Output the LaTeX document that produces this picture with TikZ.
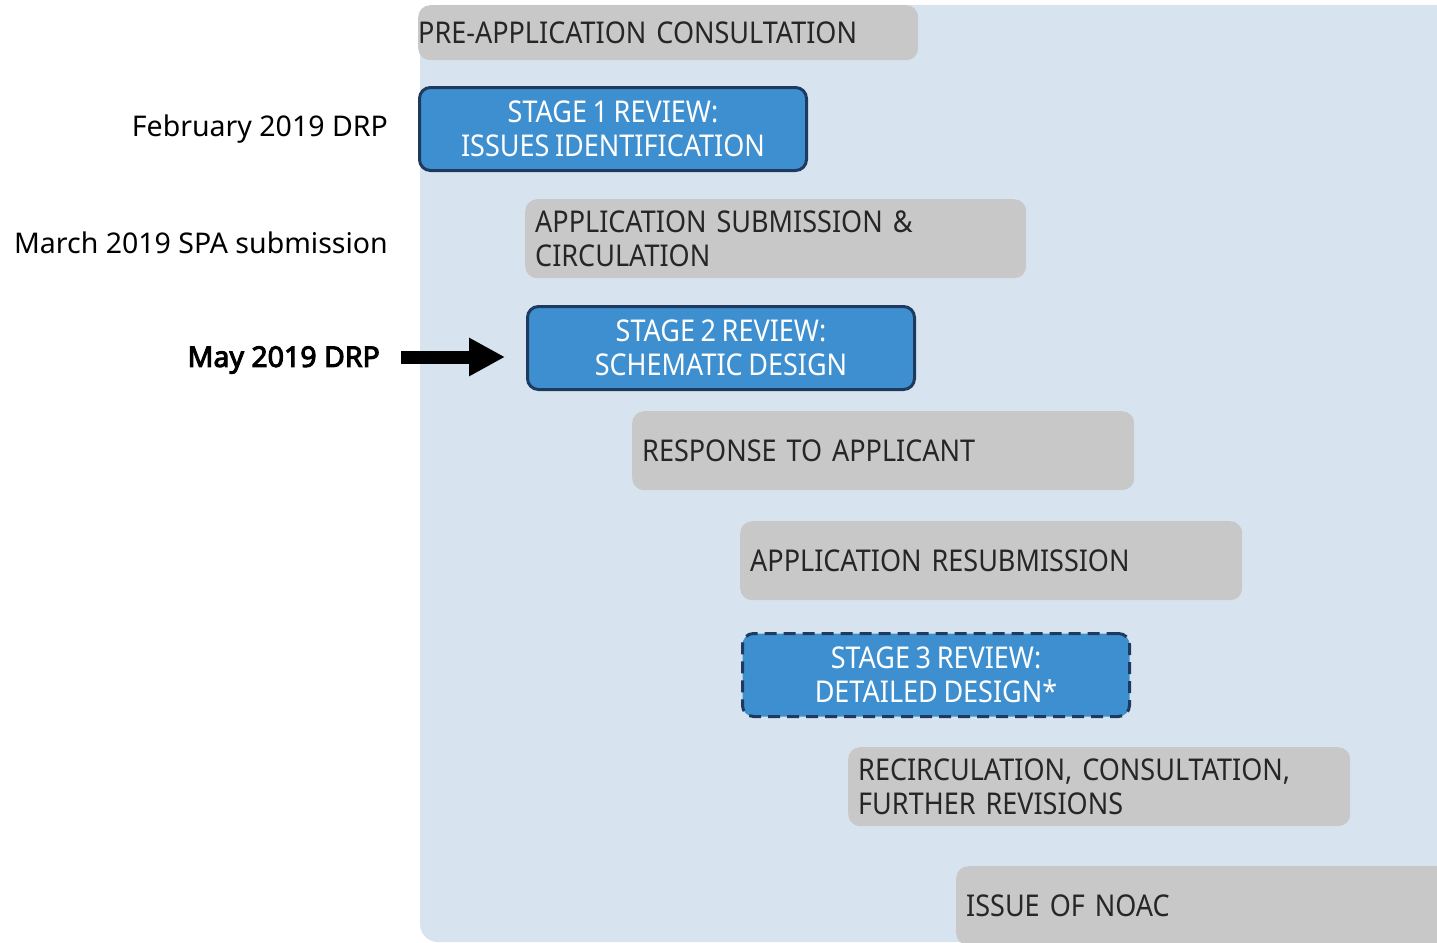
\documentclass[tikz,border=0pt]{standalone}
\usepackage{fontspec}
\setmainfont{Noto Sans}
\newfontfamily\boxfont[FakeStretch=0.9,WordSpace=0.8]{Noto Sans}
\newfontfamily\sidefont{Noto Sans}
\newfontfamily\sidebold[FakeBold=3.5]{Noto Sans}
\usetikzlibrary{arrows.meta}
\usetikzlibrary{positioning}

\definecolor{panelblue}{HTML}{D7E4EF}
\definecolor{stepgrey}{HTML}{C8C8C8}
\definecolor{stageblue}{HTML}{3D8FD0}
\definecolor{stageedge}{HTML}{1E3A5F}

\tikzset{
  greystep/.style={fill=stepgrey, rounded corners=12pt, anchor=north west,
    text width=#1, align=left, inner xsep=10pt, minimum height=79pt,
    text=black!85, font=\boxfont\fontsize{30}{34}\selectfont},
  stagebox/.style={fill=stageblue, draw=stageedge, line width=3pt,
    rounded corners=11pt, anchor=north west, align=center,
    minimum width=387pt, minimum height=83pt, text=white,
    font=\boxfont\fontsize{30}{34}\selectfont},
  datelabel/.style={anchor=east, inner sep=0pt,
    font=\sidefont\fontsize{28.5}{32}\selectfont}
}

\begin{document}
\begin{tikzpicture}[x=1pt,y=-1pt]
\useasboundingbox (0,0) rectangle (1437,942);
\clip (0,0) rectangle (1437,942);

%% background panel
\fill[panelblue, rounded corners=18pt](420,5) rectangle (1460,942);

%% steps of the review
\node[greystep=500pt, inner xsep=0pt, minimum height=55pt] (pre) at (418,5)
  {PRE-APPLICATION CONSULTATION};
\node[stagebox] (st1) at (418,86) {STAGE 1 REVIEW:\\ISSUES IDENTIFICATION};
\node[greystep=481pt] (sub) at (525,199) {APPLICATION SUBMISSION \&\\CIRCULATION};
\node[stagebox] (st2) at (526,305) {STAGE 2 REVIEW:\\SCHEMATIC DESIGN};
\node[greystep=482pt] (resp) at (632,411) {RESPONSE TO APPLICANT};
\node[greystep=482pt] (resub) at (740,521) {APPLICATION RESUBMISSION};
\node[stagebox, dashed, dash pattern=on 12pt off 7pt] (st3) at (741,632)
  {STAGE 3 REVIEW:\\DETAILED DESIGN*};
\node[greystep=482pt] (recirc) at (848,747)
  {RECIRCULATION, CONSULTATION,\\FURTHER REVISIONS};
\node[greystep=520pt] (noac) at (956,866) {ISSUE OF NOAC};

%% dates on the left
\node[datelabel] (feb) at (388,129) {February 2019 DRP};
\node[datelabel] (mar) at (388,243) {March 2019 SPA submission};
\node[datelabel, font=\sidebold\fontsize{28.5}{32}\selectfont] (may) at (380,360)
  {May 2019 DRP};

\draw[line width=13pt, -{Triangle[length=36pt,width=36pt]},
  shorten <=21pt, shorten >=21pt] (may.east |- 0,357) -- (st2.west |- 0,357);
\end{tikzpicture}
\end{document}
